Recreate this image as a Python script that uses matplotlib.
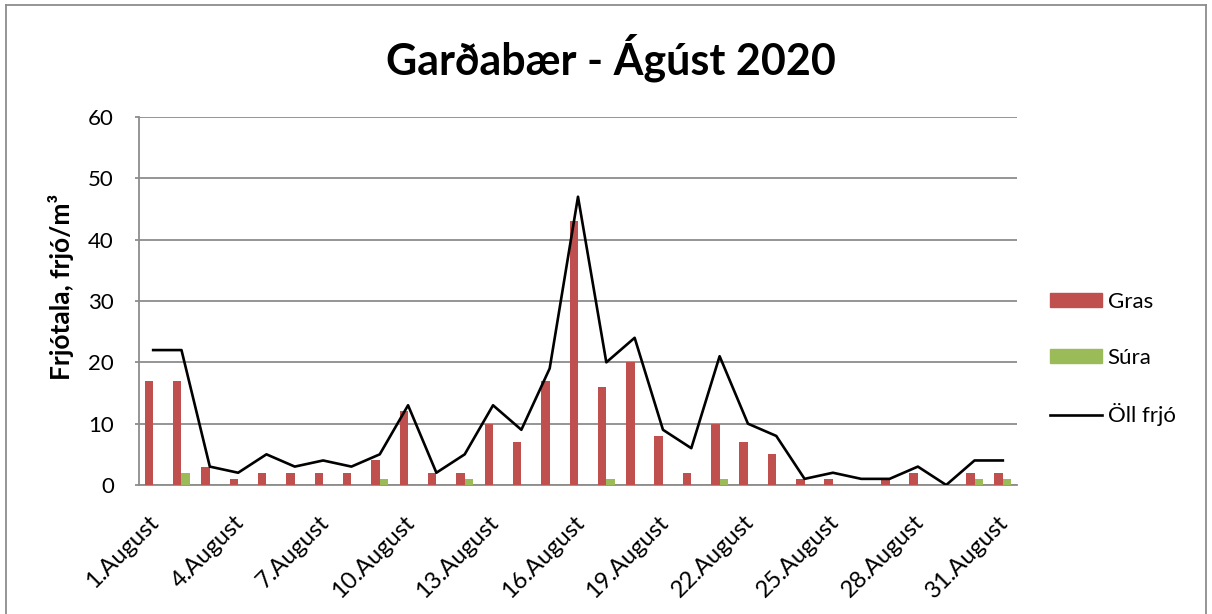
import matplotlib
matplotlib.use("Agg")
import matplotlib.pyplot as plt
import matplotlib.transforms as mtransforms
import numpy as np
from matplotlib.lines import Line2D

plt.rcParams['font.family'] = ['Lato', 'DejaVu Sans']

days = [f"{d}.August" for d in range(1, 32)]
gras = [17, 17, 3, 1, 2, 2, 2, 2, 4, 12, 2, 2, 10, 7, 17, 43, 16, 20, 8, 2, 10, 7, 5, 1, 1, 0, 1, 2, 0, 2, 2]
sura = [0, 2, 0, 0, 0, 0, 0, 0, 1, 0, 0, 1, 0, 0, 0, 0, 1, 0, 0, 0, 1, 0, 0, 0, 0, 0, 0, 0, 0, 1, 1]
oll = [22, 22, 3, 2, 5, 3, 4, 3, 5, 13, 2, 5, 13, 9, 19, 47, 20, 24, 9, 6, 21, 10, 8, 1, 2, 1, 1, 3, 0, 4, 4]
yticks = [0, 10, 20, 30, 40, 50, 60]

W, H = 1212, 614
fig = plt.figure(figsize=(W / 100, H / 100), dpi=100)
ax = fig.add_axes([139 / W, 1 - 485 / H, (1017 - 139) / W, (485 - 117) / H])

x = np.arange(len(days))
bw = 0.3
ax.bar(x - bw / 2, gras, width=bw, color='#C0504D', label='Gras', zorder=3)
ax.bar(x + bw / 2, sura, width=bw, color='#9BBB59', label='Súra', zorder=3)
ax.plot(x, oll, color='black', lw=1.9, label='Öll frjó', zorder=4)

ax.set_xlim(-0.5, len(days) - 0.5)
ax.set_ylim(0, 60)
ax.set_yticks(yticks)
ax.yaxis.grid(True, color='#8C8C8C', lw=1.3, zorder=0)
ax.set_axisbelow(True)
for s in ['top', 'right']:
    ax.spines[s].set_visible(False)
for s in ['left', 'bottom']:
    ax.spines[s].set_color('#8C8C8C')
    ax.spines[s].set_linewidth(1.3)
ax.tick_params(axis='y', length=3, color='#8C8C8C', width=1.3, labelsize=16, pad=15)
ax.set_xticks(x[::3])
ax.set_xticklabels(days[::3], rotation=45, ha='right', rotation_mode='anchor', fontsize=17)
ax.tick_params(axis='x', length=0, pad=19)
offset = mtransforms.ScaledTranslation(-5 / 100, 0, fig.dpi_scale_trans)
for lab in ax.get_xticklabels():
    lab.set_transform(lab.get_transform() + offset)

ax.set_ylabel('Frjótala, frjó/m³', fontsize=19, fontweight='bold')
ax.yaxis.set_label_coords((74 - 139) / 878, (485 - 287) / 368)

fig.text(611 / W, 1 - 75 / H, 'Garðabær - Ágúst 2020', ha='center', va='baseline',
         fontsize=31, fontweight='bold')

handles = [plt.Rectangle((0, 0), 1, 1, color='#C0504D'),
           plt.Rectangle((0, 0), 1, 1, color='#9BBB59'),
           Line2D([0], [0], color='black', lw=1.9)]
fig.legend(handles, ['Gras', 'Súra', 'Öll frjó'], loc='center left',
           bbox_to_anchor=(1050 / W, 1 - 359 / H), frameon=False, fontsize=16,
           handlelength=2.35, handleheight=0.6, labelspacing=1.6, handletextpad=0.25,
           borderpad=0, borderaxespad=0)

# outer chart border
fig.add_artist(Line2D([6 / W, 6 / W], [0, 1 - 5 / H], transform=fig.transFigure, color='#8C8C8C', lw=1.3))
fig.add_artist(Line2D([6 / W, 1206 / W], [1 - 5 / H, 1 - 5 / H], transform=fig.transFigure, color='#8C8C8C', lw=1.3))
fig.add_artist(Line2D([1206 / W, 1206 / W], [0, 1 - 5 / H], transform=fig.transFigure, color='#8C8C8C', lw=1.3))

fig.savefig('out.png', dpi=100, facecolor='white')
